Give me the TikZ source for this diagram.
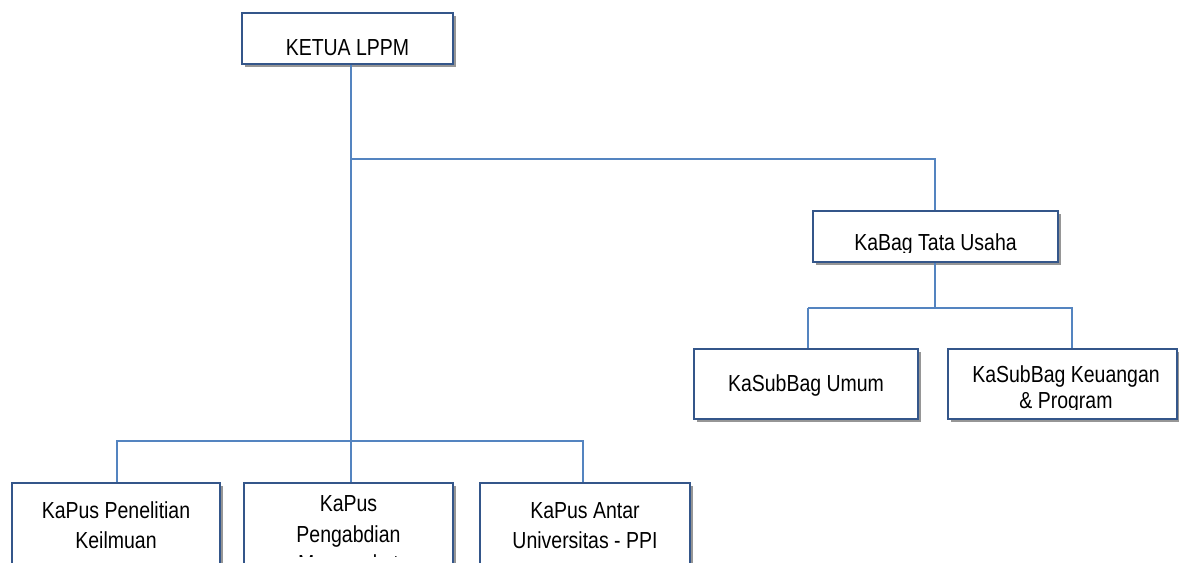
\documentclass[tikz,border=0pt]{standalone}
\usepackage{fontspec}
\setmainfont{Liberation Sans}[FakeStretch=0.84]
\usetikzlibrary{shadows}
\definecolor{connblue}{RGB}{84,132,192}
\definecolor{boxblue}{RGB}{52,86,138}
\definecolor{shadowgray}{RGB}{150,150,150}
\tikzset{
  orgbox/.style={draw=boxblue, line width=1.6pt, fill=white, inner sep=0pt,
    drop shadow={shadow xshift=2.6pt, shadow yshift=-2.6pt, fill=shadowgray, opacity=1}},
  conn/.style={draw=connblue, line width=1.5pt},
  txt/.style={inner sep=0pt, anchor=base, font=\fontsize{17.4pt}{22.5pt}\selectfont}
}
% #1 name, #2 x1, #3 y1, #4 x2, #5 y2 (pixel units)
\newcommand\orgboxat[5]{%
  \node[orgbox, minimum width={(#4-#2)*0.75pt}, minimum height={(#5-#3)*0.75pt}]
    (#1) at ({(#2+#4)/2},{(#3+#5)/2}) {};}
\begin{document}
\begin{tikzpicture}[x=0.75pt,y=-0.75pt]
\useasboundingbox (0,0) rectangle (1179,562);
\clip (0,0) rectangle (1179,562);
% junction coordinates
\coordinate (jtop) at (351,159);
\coordinate (jkabag) at (935,159);
\coordinate (jmid) at (935,308);
\coordinate (jumum) at (808,308);
\coordinate (jkeu) at (1072,308);
\coordinate (jbot) at (351,441);
\coordinate (jpen) at (117,441);
\coordinate (jantar) at (583,441);

% boxes
\orgboxat{ketua}{242}{13}{453}{64}
\orgboxat{kabag}{813}{211}{1058}{262}
\orgboxat{umum}{694}{349}{918}{419}
\orgboxat{keu}{948}{349}{1177}{419}
\orgboxat{pen}{12}{483}{220}{600}
\orgboxat{pengab}{244}{483}{453}{600}
\orgboxat{antar}{480}{483}{690}{600}

% connectors
\draw[conn] (jtop |- ketua.south) -- (jbot);
\draw[conn] (jtop) -- (jkabag) -- (jkabag |- kabag.north);
\draw[conn] (jmid |- kabag.south) -- (jmid);
\draw[conn] (jumum) -- (jkeu) -- (jkeu |- keu.north);
\draw[conn] (jumum) -- (jumum |- umum.north);
\draw[conn] (jpen |- pen.north) -- (jpen) -- (jantar) -- (jantar |- antar.north);
\draw[conn] (jbot) -- (jbot |- pengab.north);

% texts
\node[txt] (ketua-t) at (347.5,55) {KETUA LPPM};
\begin{scope}
\clip (813,211) rectangle (1058,252);
\node[txt] (kabag-t) at (935.5,250) {KaBag Tata Usaha};
\end{scope}
\node[txt] (umum-t) at (806,391) {KaSubBag Umum};
\begin{scope}
\clip (948,349) rectangle (1177,409);
\node[txt] (keu-t1) at (1066,382) {KaSubBag Keuangan};
\node[txt] (keu-t2) at (1066,408) {\& Program};
\end{scope}
\begin{scope}
\clip (0,483) rectangle (1179,556);
\node[txt] (pen-t1) at (116,518) {KaPus Penelitian};
\node[txt] (pen-t2) at (116,548) {Keilmuan};
\node[txt] (pengab-t1) at (348.5,511) {KaPus};
\node[txt] (pengab-t2) at (348.5,542) {Pengabdian};
\node[txt] (pengab-t3) at (348.5,571) {Masyarakat};
\node[txt] (antar-t1) at (585,518) {KaPus Antar};
\node[txt] (antar-t2) at (585,548) {Universitas - PPI};
\end{scope}
\end{tikzpicture}
\end{document}
